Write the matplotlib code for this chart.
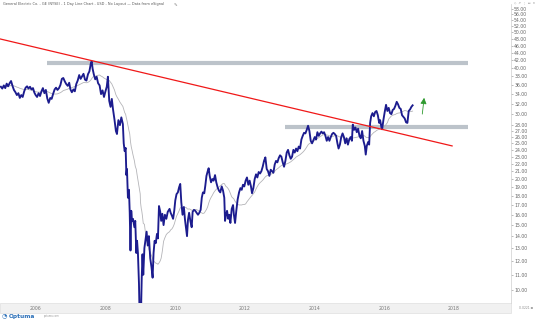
import matplotlib
matplotlib.use("Agg")
import matplotlib.pyplot as plt
from matplotlib.ticker import FixedLocator, NullLocator, FuncFormatter
from matplotlib.patches import Rectangle
import pandas as pd

# GE closing prices (about two points a month)
prices = [
    ("2005-03-01", 35.6), ("2005-03-16", 35.2), ("2005-04-01", 35.9), ("2005-04-16", 35.3),
    ("2005-05-01", 36.3), ("2005-05-16", 35.7), ("2005-06-01", 36.4), ("2005-06-16", 36.9),
    ("2005-07-01", 35.8), ("2005-07-16", 34.9), ("2005-08-01", 34.4), ("2005-08-16", 33.8),
    ("2005-09-01", 34.2), ("2005-09-16", 33.2), ("2005-10-01", 33.8), ("2005-10-16", 33.4),
    ("2005-11-01", 34.6), ("2005-11-16", 35.4), ("2005-12-01", 35.7), ("2005-12-16", 35.2),
    ("2006-01-01", 35.6), ("2006-01-16", 35.0), ("2006-02-01", 35.3), ("2006-02-16", 34.3),
    ("2006-03-01", 33.8), ("2006-03-16", 33.4), ("2006-04-01", 34.2), ("2006-04-16", 33.6),
    ("2006-05-01", 34.6), ("2006-05-16", 35.3), ("2006-06-01", 34.2), ("2006-06-16", 34.9),
    ("2006-07-01", 33.1), ("2006-07-16", 32.2), ("2006-08-01", 33.2), ("2006-08-16", 33.0),
    ("2006-09-01", 34.1), ("2006-09-16", 35.0), ("2006-10-01", 35.4), ("2006-10-16", 34.9),
    ("2006-11-01", 35.3), ("2006-11-16", 36.0), ("2006-12-01", 37.4), ("2006-12-16", 37.6),
    ("2007-01-01", 36.8), ("2007-01-16", 36.2), ("2007-02-01", 35.8), ("2007-02-16", 36.5),
    ("2007-03-01", 35.0), ("2007-03-16", 34.4), ("2007-04-01", 35.0), ("2007-04-16", 34.6),
    ("2007-05-01", 36.2), ("2007-05-16", 37.0), ("2007-06-01", 38.3), ("2007-06-16", 37.4),
    ("2007-07-01", 38.0), ("2007-07-16", 38.6), ("2007-08-01", 37.2), ("2007-08-16", 37.0),
    ("2007-09-01", 38.5), ("2007-09-16", 39.2), ("2007-10-01", 41.2), ("2007-10-10", 41.7),
    ("2007-10-20", 39.8), ("2007-11-01", 38.5), ("2007-11-16", 37.3), ("2007-12-01", 37.9),
    ("2007-12-16", 36.4),
    ("2008-01-01", 35.9), ("2008-01-16", 34.0), ("2008-02-01", 34.8), ("2008-02-16", 33.4),
    ("2008-03-01", 34.5), ("2008-03-16", 35.6), ("2008-03-28", 37.9), ("2008-04-11", 32.6),
    ("2008-04-25", 31.4), ("2008-05-08", 33.0), ("2008-05-20", 31.0), ("2008-06-05", 29.0),
    ("2008-06-20", 27.0), ("2008-07-01", 26.5), ("2008-07-16", 28.9), ("2008-08-01", 28.0),
    ("2008-08-16", 29.4), ("2008-09-01", 28.2), ("2008-09-10", 25.0), ("2008-09-20", 23.8),
    ("2008-09-30", 24.3), ("2008-10-08", 20.5), ("2008-10-14", 21.3), ("2008-10-24", 17.8),
    ("2008-11-04", 18.7), ("2008-11-12", 16.2), ("2008-11-20", 12.8), ("2008-11-28", 16.4),
    ("2008-12-05", 15.4), ("2008-12-16", 15.6), ("2008-12-31", 14.8),
    ("2009-01-09", 15.4), ("2009-01-20", 12.6), ("2009-01-28", 13.6), ("2009-02-06", 12.6),
    ("2009-02-17", 10.4), ("2009-02-23", 8.6), ("2009-03-02", 7.2), ("2009-03-05", 6.7),
    ("2009-03-10", 7.6), ("2009-03-13", 9.4), ("2009-03-18", 10.8), ("2009-03-26", 12.5),
    ("2009-04-03", 11.0), ("2009-04-15", 13.0),
    ("2009-04-28", 13.8), ("2009-05-08", 14.4), ("2009-05-20", 13.2), ("2009-06-01", 14.0),
    ("2009-06-15", 12.2), ("2009-06-29", 11.5), ("2009-07-10", 10.8), ("2009-07-20", 12.6),
    ("2009-07-31", 13.6), ("2009-08-12", 13.4), ("2009-08-25", 14.2), ("2009-09-04", 13.8),
    ("2009-09-15", 16.9), ("2009-09-28", 16.3), ("2009-10-08", 15.4), ("2009-10-20", 16.1),
    ("2009-11-02", 15.0), ("2009-11-16", 16.0), ("2009-12-01", 15.6), ("2009-12-16", 16.3),
    ("2010-01-04", 16.6), ("2010-01-15", 16.2), ("2010-01-29", 15.9), ("2010-02-10", 15.6),
    ("2010-02-22", 16.4), ("2010-03-05", 17.5), ("2010-03-18", 18.2), ("2010-04-01", 18.4),
    ("2010-04-14", 19.0), ("2010-04-26", 19.4), ("2010-05-07", 17.3), ("2010-05-20", 16.0),
    ("2010-06-03", 16.8), ("2010-06-15", 15.5), ("2010-06-28", 14.6), ("2010-07-06", 14.0),
    ("2010-07-16", 15.5), ("2010-07-28", 16.2), ("2010-08-10", 15.4), ("2010-08-24", 14.8),
    ("2010-09-03", 16.3), ("2010-09-17", 16.5), ("2010-10-01", 16.4), ("2010-10-15", 16.2),
    ("2010-10-29", 16.0), ("2010-11-12", 16.2), ("2010-11-26", 16.5), ("2010-12-08", 17.8),
    ("2010-12-20", 18.4),
    ("2011-01-03", 18.3), ("2011-01-14", 19.2), ("2011-01-26", 20.4), ("2011-02-08", 21.0),
    ("2011-02-18", 21.4), ("2011-03-01", 20.4), ("2011-03-15", 19.6), ("2011-03-29", 20.0),
    ("2011-04-11", 19.8), ("2011-04-26", 20.5), ("2011-05-09", 19.6), ("2011-05-23", 19.0),
    ("2011-06-06", 18.6), ("2011-06-20", 18.4), ("2011-07-05", 19.1), ("2011-07-19", 18.6),
    ("2011-08-01", 17.8), ("2011-08-09", 15.4), ("2011-08-18", 15.9), ("2011-08-30", 16.4),
    ("2011-09-12", 15.6), ("2011-09-23", 16.0), ("2011-10-04", 15.2), ("2011-10-18", 16.6),
    ("2011-11-01", 17.0), ("2011-11-10", 16.0), ("2011-11-22", 15.2), ("2011-12-05", 16.4),
    ("2011-12-19", 17.6),
    ("2012-01-03", 18.4), ("2012-01-17", 18.9), ("2012-01-31", 18.7), ("2012-02-13", 19.3),
    ("2012-02-27", 19.1), ("2012-03-12", 19.8), ("2012-03-26", 20.2), ("2012-04-09", 19.3),
    ("2012-04-23", 19.8), ("2012-05-07", 19.1), ("2012-05-18", 18.3), ("2012-06-01", 18.9),
    ("2012-06-15", 20.0), ("2012-06-29", 20.6), ("2012-07-13", 20.2), ("2012-07-27", 20.9),
    ("2012-08-10", 20.7), ("2012-08-24", 21.0), ("2012-09-07", 21.6), ("2012-09-21", 22.4),
    ("2012-10-05", 22.9), ("2012-10-19", 21.3), ("2012-11-02", 21.0), ("2012-11-16", 20.4),
    ("2012-11-30", 21.2), ("2012-12-14", 21.0), ("2012-12-28", 20.8),
    ("2013-01-11", 21.9), ("2013-01-25", 22.4), ("2013-02-08", 22.2), ("2013-02-22", 22.8),
    ("2013-03-08", 23.2), ("2013-03-22", 23.0), ("2013-04-05", 22.2), ("2013-04-19", 21.6),
    ("2013-05-03", 22.4), ("2013-05-17", 23.6), ("2013-05-31", 24.0), ("2013-06-14", 23.2),
    ("2013-06-28", 22.7), ("2013-07-12", 23.0), ("2013-07-26", 24.0), ("2013-08-09", 23.6),
    ("2013-08-23", 24.2), ("2013-09-06", 23.8), ("2013-09-20", 24.5), ("2013-10-04", 24.2),
    ("2013-10-18", 25.6), ("2013-11-01", 26.2), ("2013-11-15", 26.7), ("2013-11-29", 26.6),
    ("2013-12-13", 27.2), ("2013-12-27", 27.9),
    ("2014-01-10", 27.0), ("2014-01-24", 25.4), ("2014-02-07", 25.0), ("2014-02-21", 25.5),
    ("2014-03-07", 26.0), ("2014-03-21", 25.6), ("2014-04-04", 26.8), ("2014-04-18", 26.2),
    ("2014-05-02", 26.6), ("2014-05-16", 26.9), ("2014-05-30", 26.6), ("2014-06-13", 26.8),
    ("2014-06-27", 26.2), ("2014-07-11", 25.4), ("2014-07-25", 26.0), ("2014-08-08", 25.4),
    ("2014-08-22", 26.0), ("2014-09-05", 26.5), ("2014-09-19", 26.7), ("2014-10-03", 26.5),
    ("2014-10-17", 26.2), ("2014-10-31", 25.0), ("2014-11-12", 24.2), ("2014-11-26", 24.8),
    ("2014-12-10", 26.0), ("2014-12-24", 26.6),
    ("2015-01-07", 26.0), ("2015-01-21", 25.0), ("2015-02-04", 25.8), ("2015-02-18", 24.8),
    ("2015-03-04", 25.6), ("2015-03-18", 26.0), ("2015-04-01", 25.4), ("2015-04-10", 28.1),
    ("2015-04-24", 27.2), ("2015-05-08", 27.6), ("2015-05-22", 26.8), ("2015-06-05", 27.4),
    ("2015-06-19", 26.2), ("2015-07-03", 25.8), ("2015-07-17", 27.0), ("2015-07-31", 25.4),
    ("2015-08-14", 24.6), ("2015-08-24", 23.3), ("2015-09-04", 24.6), ("2015-09-18", 25.2),
    ("2015-09-29", 24.8), ("2015-10-09", 28.4), ("2015-10-20", 29.6), ("2015-11-03", 30.2),
    ("2015-11-17", 29.6), ("2015-12-01", 30.4), ("2015-12-15", 30.6), ("2015-12-29", 29.8),
    ("2016-01-12", 28.4), ("2016-01-22", 28.9), ("2016-02-05", 27.6), ("2016-02-12", 27.3),
    ("2016-02-26", 29.0), ("2016-03-10", 30.4), ("2016-03-24", 31.8), ("2016-04-07", 30.6),
    ("2016-04-21", 31.2), ("2016-05-05", 30.2), ("2016-05-19", 30.0), ("2016-06-02", 30.8),
    ("2016-06-16", 31.0), ("2016-06-30", 31.6), ("2016-07-14", 32.4), ("2016-07-28", 31.9),
    ("2016-08-11", 31.2), ("2016-08-25", 31.0), ("2016-09-08", 29.8), ("2016-09-22", 29.5),
    ("2016-10-06", 29.2), ("2016-10-20", 28.5), ("2016-11-03", 28.4), ("2016-11-17", 30.6),
    ("2016-12-01", 30.9), ("2016-12-15", 31.4), ("2016-12-28", 31.7),
]

# horizontal zones (price, start date, end date)
zone_levels = [41.3, 27.7]
zone_starts = ["2006-06-28", "2013-05-01"]
zone_end = "2018-08-01"

# downward trend line end points
trend_dates = ["2005-02-20", "2018-02-15"]
trend_values = [48.0, 24.6]

# green arrow (tail -> head)
arrow_dates = ["2017-04-05", "2017-05-01"]
arrow_values = [29.5, 33.8]

y_ticks = [10, 11, 12, 13, 14, 15, 16, 17, 18, 19, 20, 21, 22, 23, 24, 25, 26, 27, 28,
           30, 32, 34, 36, 38, 40, 42, 44, 46, 48, 50, 52, 54, 56, 58]
x_years = [2006, 2008, 2010, 2012, 2014, 2016, 2018]

s = pd.Series([p for _, p in prices], index=pd.to_datetime([d for d, _ in prices]))
ma = s.rolling("230D", min_periods=1).mean()

W, H = 540, 322
fig = plt.figure(figsize=(W / 100, H / 100), dpi=100)
fig.patch.set_facecolor("white")

# date strip under the chart (drawn first so tick labels sit on top)
fig.patches.append(Rectangle((0, (H - 313) / H), 511 / W, 10 / H, transform=fig.transFigure,
                             facecolor="#f1f1f1", edgecolor="#dadada", lw=0.4, zorder=-5))

ax = fig.add_axes([0, (H - 303) / H, 511 / W, (303 - 4) / H])
ax.set_facecolor("none")
ax.set_yscale("log")
ax.set_ylim(9.22, 59.7)
ax.set_xlim(pd.Timestamp("2005-02-20"), pd.Timestamp("2019-10-26"))

ax.plot(ma.index, ma.values, color="#b4b4b8", lw=0.6, zorder=2)
ax.plot(s.index, s.values, color="#1c1c8e", lw=1.35, zorder=3)

for lvl, st in zip(zone_levels, zone_starts):
    ax.plot([pd.Timestamp(st), pd.Timestamp(zone_end)], [lvl, lvl],
            color="#bcc3ca", lw=3.0, solid_capstyle="butt", zorder=1)

ax.plot(pd.to_datetime(trend_dates), trend_values, color="#f01818", lw=0.9, zorder=4)

ax.annotate("", xy=(pd.Timestamp(arrow_dates[1]), arrow_values[1]),
            xytext=(pd.Timestamp(arrow_dates[0]), arrow_values[0]),
            arrowprops=dict(arrowstyle="-|>,head_length=0.35,head_width=0.18",
                            color="#2e9a2e", lw=0.6))

# axes styling
for side in ["top", "left", "bottom"]:
    ax.spines[side].set_visible(False)
ax.spines["right"].set_color("#cfcfcf")
ax.spines["right"].set_linewidth(0.5)

ax.yaxis.tick_right()
ax.yaxis.set_major_locator(FixedLocator(y_ticks))
ax.yaxis.set_minor_locator(NullLocator())
ax.yaxis.set_major_formatter(FuncFormatter(lambda v, p: "%.2f" % v))
ax.tick_params(axis="y", which="major", length=1.5, width=0.4, color="#888888",
               labelsize=3.3, labelcolor="#666666", pad=0.8)

ax.set_xticks([pd.Timestamp(f"{y}-01-01") for y in x_years])
ax.set_xticklabels([str(y) for y in x_years])
ax.xaxis.set_minor_locator(NullLocator())
ax.tick_params(axis="x", length=0, labelsize=3.3, labelcolor="#777777", pad=2.2)
for lab in ax.get_xticklabels():
    lab.set_ha("left")
    lab.set_zorder(10)

fig.text(3 / W, 1 - 4.5 / H,
         "General Electric Co. - GE (NYSE) - 1 Day Line Chart - USD - No Layout \u2014 Data from eSignal",
         fontsize=2.5, color="#555555", va="center", ha="left")
fig.text(174 / W, 1 - 4.5 / H, "\u270e", fontsize=3.2, color="#777777", va="center")
fig.text(514 / W, 1 - 2.5 / H, "\u25c7  \u2197  \u22ee  \u25ad  \u2715", fontsize=2.2,
         color="#888888", va="center", ha="left")
fig.text(519 / W, 1 - 308 / H, "0.0221 \u229e", fontsize=2.2, color="#888888", va="center")
fig.text(9 / W, 1 - 316.5 / H, "Optuma", fontsize=4.2, color="#2a6fb8", va="center",
         fontweight="bold")
fig.text(2 / W, 1 - 316.5 / H, "\u25d4", fontsize=4.5, color="#2a6fb8", va="center")
fig.text(44 / W, 1 - 316.5 / H, "optuma.com", fontsize=1.8, color="#999999", va="center")

fig.savefig("out.png", dpi=100)
